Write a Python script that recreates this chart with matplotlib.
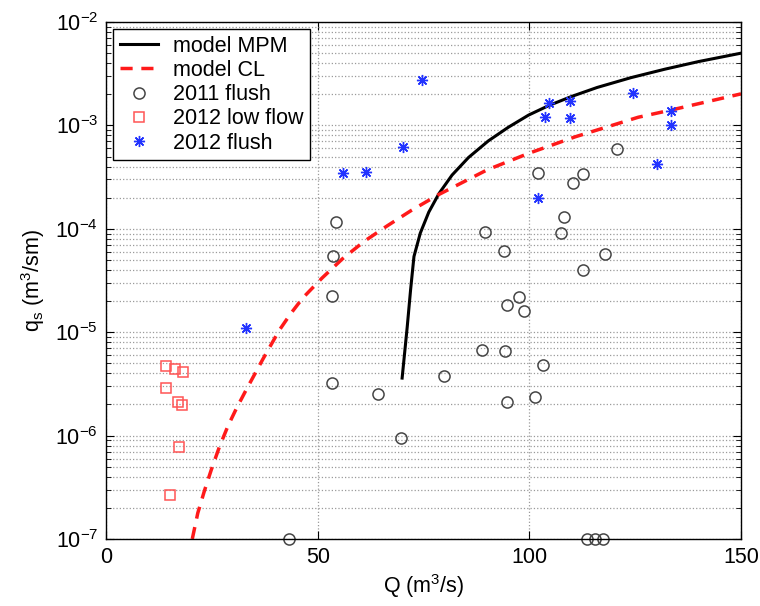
"""Sediment flux vs discharge: model curves against field data."""

import matplotlib

matplotlib.use("Agg")
import matplotlib.pyplot as plt
from matplotlib.ticker import LogLocator, NullFormatter

# model curves (Q in m3/s, qs in m3/sm)
mpm_q = [69.9, 71.1, 71.9, 72.7, 74.2, 76.2, 78.6, 81.7, 85.6, 90.3,
         95.0, 99.8, 104.6, 110.0, 116.0, 124.0, 132.0, 140.0, 150.0]
mpm_qs = [3.6e-6, 1.12e-5, 2.57e-5, 5.4e-5, 9.1e-5, 1.45e-4, 2.19e-4, 3.31e-4,
          4.9e-4, 7.1e-4, 9.6e-4, 1.26e-3, 1.56e-3, 1.91e-3, 2.33e-3,
          2.90e-3, 3.50e-3, 4.15e-3, 5.0e-3]

cl_q = [20.3, 21.6, 23.2, 24.8, 26.7, 28.7, 30.7, 33.0, 37.0, 40.9, 43.5,
        46.4, 51.0, 55.8, 61.0, 66.4, 72.0, 78.5, 90.0, 99.8, 110.8, 125.7,
        133.5, 150.0]
cl_qs = [1.0e-7, 1.78e-7, 2.95e-7, 4.68e-7, 7.76e-7, 1.23e-6, 1.82e-6,
         2.75e-6, 5.5e-6, 1.05e-5, 1.5e-5, 2.14e-5, 3.35e-5, 5.13e-5, 7.6e-5,
         1.07e-4, 1.5e-4, 2.14e-4, 3.72e-4, 5.37e-4, 7.76e-4, 1.20e-3,
         1.41e-3, 2.02e-3]

# field data
flush2011_q = [43.2, 54.2, 53.6, 53.3, 53.3, 64.1, 69.6, 79.7, 89.6, 88.8,
               93.9, 94.3, 94.7, 94.7, 97.6, 98.7, 101.2, 103.1, 102.0, 112.6,
               110.4, 108.2, 107.5, 117.8, 112.7, 120.7, 113.7, 115.5, 117.4]
flush2011_qs = [1.0e-7, 1.17e-4, 5.46e-5, 2.24e-5, 3.23e-6, 2.51e-6, 9.5e-7,
                3.75e-6, 9.4e-5, 6.7e-6, 6.1e-5, 6.6e-6, 1.82e-5, 2.10e-6,
                2.20e-5, 1.60e-5, 2.38e-6, 4.85e-6, 3.49e-4, 3.37e-4, 2.75e-4,
                1.30e-4, 9.1e-5, 5.7e-5, 4.0e-5, 5.96e-4, 1.0e-7, 1.0e-7, 1.0e-7]

lowflow2012_q = [14.0, 16.1, 18.0, 14.1, 17.0, 17.95, 17.1, 15.0]
lowflow2012_qs = [4.71e-6, 4.38e-6, 4.12e-6, 2.88e-6, 2.11e-6, 1.96e-6,
                  7.7e-7, 2.68e-7]

flush2012_q = [74.7, 70.2, 55.9, 61.3, 32.9, 104.6, 109.6, 103.7, 109.6,
               124.5, 133.4, 133.4, 130.1, 102.0]
flush2012_qs = [2.77e-3, 6.2e-4, 3.47e-4, 3.54e-4, 1.1e-5, 1.64e-3, 1.71e-3,
                1.20e-3, 1.18e-3, 2.04e-3, 1.39e-3, 1.0e-3, 4.23e-4, 2.0e-4]

x_ticks = [0, 50, 100, 150]

plt.rcParams["font.family"] = ["Liberation Sans", "DejaVu Sans"]
plt.rcParams["mathtext.default"] = "regular"
plt.rcParams["font.size"] = 15.5

fig = plt.figure(figsize=(7.6, 6.06), dpi=100)
axis = fig.add_axes([0.140, 0.1106, 0.835, 0.853])

axis.plot(mpm_q, mpm_qs, color="black", linewidth=2.2, label="model MPM")
axis.plot(cl_q, cl_qs, color="#ff1a1a", linewidth=2.5, dashes=(3.5, 2.5),
          label="model CL")
axis.plot(flush2011_q, flush2011_qs, linestyle="none", marker="o",
          markersize=8, markerfacecolor="none", markeredgecolor="#454545",
          markeredgewidth=1.1, clip_on=False, label="2011 flush")
axis.plot(lowflow2012_q, lowflow2012_qs, linestyle="none", marker="s",
          markersize=7, markerfacecolor="none", markeredgecolor="#ff5555",
          markeredgewidth=1.1, label="2012 low flow")
axis.plot(flush2012_q, flush2012_qs, linestyle="none", marker=(8, 2, 0),
          markersize=8, markeredgecolor="#2233ff", markeredgewidth=1.0,
          label="2012 flush")

axis.set_yscale("log")
axis.set_xlim(0, 150)
axis.set_ylim(1e-7, 1e-2)
axis.set_xticks(x_ticks)
axis.yaxis.set_major_locator(LogLocator(base=10, numticks=10))
axis.yaxis.set_minor_locator(LogLocator(base=10, subs=range(2, 10), numticks=10))
axis.yaxis.set_minor_formatter(NullFormatter())

axis.grid(True, which="major", axis="both", linestyle=":", color="#9a9a9a",
          linewidth=0.9)
axis.grid(True, which="minor", axis="y", linestyle=":", color="#9a9a9a",
          linewidth=0.9)
axis.tick_params(which="both", direction="in", top=True, right=True,
                 labelsize=15.5, pad=6)
axis.tick_params(which="major", length=6)
axis.tick_params(which="minor", length=3.5)
for spine in axis.spines.values():
    spine.set_linewidth(1.0)

axis.set_xlabel(r"Q (m$^3$/s)", fontsize=15.5, labelpad=3)
axis.set_ylabel(r"q$_s$ (m$^3$/sm)", fontsize=15.5, labelpad=6)

legend = axis.legend(loc="upper left", bbox_to_anchor=(0.011, 0.986),
                     borderaxespad=0, numpoints=1, handlelength=1.75,
                     handletextpad=0.7, labelspacing=0.15, borderpad=0.3,
                     fancybox=False, framealpha=1, edgecolor="black",
                     fontsize=15.5)
legend.get_frame().set_linewidth(1.0)

fig.savefig("out.png", dpi=100)
plt.close(fig)
